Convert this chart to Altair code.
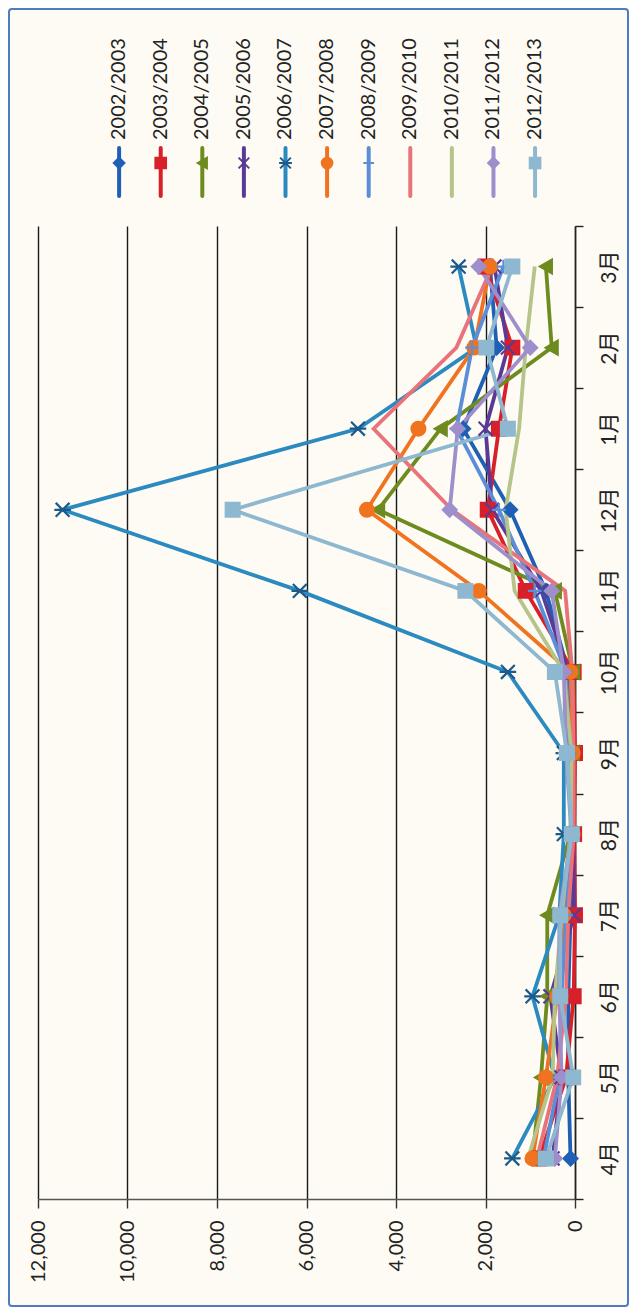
import altair as alt
import pandas as pd

months = ["4月", "5月", "6月", "7月", "8月", "9月", "10月", "11月", "12月", "1月", "2月", "3月"]
series = ["2002/2003", "2003/2004", "2004/2005", "2005/2006", "2006/2007", "2007/2008",
          "2008/2009", "2009/2010", "2010/2011", "2011/2012", "2012/2013"]

v2002 = [100, 150, 150, 100, 50, 120, 150, 650, 1450, 2500, 1750, 1900]
v2003 = [800, 200, 30, 0, 20, 0, 30, 1100, 1950, 1700, 1400, 2000]
v2004 = [950, 760, 620, 620, 100, 50, 40, 450, 4400, 3000, 520, 650]
v2005 = [500, 300, 550, 20, 50, 150, 150, 750, 1850, 2000, 1500, 1800]
v2006 = [1400, 450, 950, 350, 250, 250, 1500, 6150, 11450, 4850, 2200, 2600]
v2007 = [950, 650, 400, 250, 50, 50, 100, 2150, 4650, 3500, 2250, 1900]
v2008 = [700, 350, 300, 200, 80, 120, 200, 900, 1700, 2650, 2300, 1600]
v2009 = [850, 400, 200, 150, 30, 30, 60, 220, 2750, 4500, 2650, 1850]
v2010 = [1050, 500, 450, 300, 100, 80, 250, 1350, 1550, 1250, 1100, 900]
v2011 = [450, 300, 350, 350, 80, 200, 250, 520, 2800, 2620, 1000, 2150]
v2012 = [650, 40, 330, 330, 70, 180, 450, 2450, 7650, 1500, 1980, 1400]
all_values = [v2002, v2003, v2004, v2005, v2006, v2007, v2008, v2009, v2010, v2011, v2012]

value_ticks = [0, 2000, 4000, 6000, 8000, 10000, 12000]

colors = ["#1f5fb4", "#d7202a", "#6e8b1f", "#5b3a96", "#2b8ac0", "#f0731f",
          "#5b8ed8", "#e8737a", "#b5c58a", "#9e8fcc", "#8db8d0"]
marker_strokes = ["#1f5fb4", "#d7202a", "#6e8b1f", "#5b3a96", "#1d5a8c", "#f0731f",
                  "#5b8ed8", "#e8737a", "#b5c58a", "#9e8fcc", "#8db8d0"]
shapes = ["diamond", "square", "triangle-left", "M-1,-1L1,1M-1,1L1,-1",
          "M-1,-1L1,1M-1,1L1,-1M-1.2,0L1.2,0", "circle", "M-1,0L1,0M0,-1L0,1",
          "circle", "circle", "diamond", "square"]
sizes = [190, 190, 210, 150, 280, 250, 110, 10, 10, 210, 330]
has_marker = [True, True, True, True, True, True, True, False, False, True, True]

FONT = "Lato, 'Noto Sans CJK JP', sans-serif"

rows = []
for s, vals in zip(series, all_values):
    for i, (m, v) in enumerate(zip(months, vals)):
        rows.append({"series": s, "month": m, "idx": i, "value": v})
df = pd.DataFrame(rows)
marked = [s for s, h in zip(series, has_marker) if h]
df_pts = df[df["series"].isin(marked)]

color_scale = alt.Scale(domain=series, range=colors)
stroke_scale = alt.Scale(domain=series, range=marker_strokes)
shape_scale = alt.Scale(domain=series, range=shapes)
size_scale = alt.Scale(domain=series, range=sizes)

x_enc = alt.X("value:Q",
              scale=alt.Scale(domain=[0, 12000], reverse=True, nice=False),
              axis=alt.Axis(values=value_ticks, format=",.0f", labelAngle=270, orient="bottom",
                            grid=True, gridColor="#1a1a1a", gridWidth=1.4,
                            domainColor="#555", domainWidth=1.5, tickColor="#333",
                            tickSize=9, tickWidth=1.4, labelFontSize=20, labelFont=FONT,
                            labelColor="#222", labelPadding=12),
              title=None)
y_enc = alt.Y("month:N", sort=list(reversed(months)),
              scale=alt.Scale(type="band", paddingInner=0, paddingOuter=0),
              bandPosition=0.5,
              axis=alt.Axis(orient="right", labelAngle=270, tickBand="extent",
                            domainColor="#222", domainWidth=1.5, tickColor="#222",
                            tickSize=8, tickWidth=1.4, labelFontSize=21, labelFont=FONT,
                            labelColor="#222", labelPadding=15, grid=False),
              title=None)

lines = alt.Chart(df).mark_line(strokeWidth=3.8).encode(
    x=x_enc, y=y_enc,
    color=alt.Color("series:N", scale=color_scale, legend=None),
    order=alt.Order("idx:Q"),
    detail="series:N",
)
points = alt.Chart(df_pts).mark_point(filled=True, strokeWidth=2.2, opacity=1).encode(
    x=x_enc, y=y_enc,
    color=alt.Color("series:N", scale=color_scale, legend=None),
    stroke=alt.Stroke("series:N", scale=stroke_scale, legend=None),
    shape=alt.Shape("series:N", scale=shape_scale, legend=None),
    size=alt.Size("series:N", scale=size_scale, legend=None),
)
main = alt.layer(lines, points).properties(width=537, height=973)

leg_df = pd.DataFrame({"series": series, "idx": list(range(len(series)))})
leg_df_pts = leg_df[leg_df["series"].isin(marked)]
lx = alt.X("idx:Q", scale=alt.Scale(domain=[-1.95, 10.96], nice=False, zero=False), axis=None)

frame = alt.Chart(pd.DataFrame({"k": [0]})).mark_rect(
    fill="transparent", stroke="#4d7cc2", strokeWidth=2, cornerRadius=3
).encode(x=alt.value(-29), x2=alt.value(590), y=alt.value(-17), y2=alt.value(1280))

leg_rule = alt.Chart(leg_df).mark_rule(strokeWidth=4, strokeCap="round").encode(
    x=lx, y=alt.value(122), y2=alt.value(170),
    color=alt.Color("series:N", scale=color_scale, legend=None),
)
leg_pts = alt.Chart(leg_df_pts).mark_point(filled=True, strokeWidth=2, opacity=1).encode(
    x=lx, y=alt.value(137),
    color=alt.Color("series:N", scale=color_scale, legend=None),
    stroke=alt.Stroke("series:N", scale=stroke_scale, legend=None),
    shape=alt.Shape("series:N", scale=shape_scale, legend=None),
    size=alt.Size("series:N", scale=alt.Scale(domain=series, range=[s * 0.6 for s in sizes]),
                  legend=None),
)
leg_text = alt.Chart(leg_df).mark_text(angle=270, align="left", baseline="middle",
                                       fontSize=20, font=FONT, color="#222").encode(
    x=lx, y=alt.value(114), text="series:N",
)
legend = alt.layer(frame, leg_rule, leg_pts, leg_text).properties(width=537, height=180)

chart = alt.vconcat(legend, main, spacing=20, bounds="flush").resolve_scale(
    x="independent", y="independent", size="independent"
).properties(
    padding={"left": 0, "top": 0, "right": 0, "bottom": 0},
    background="#fdfbf4",
).configure_view(stroke=None)

chart.save("out.html", embed_options={"renderer": "svg", "actions": False})
